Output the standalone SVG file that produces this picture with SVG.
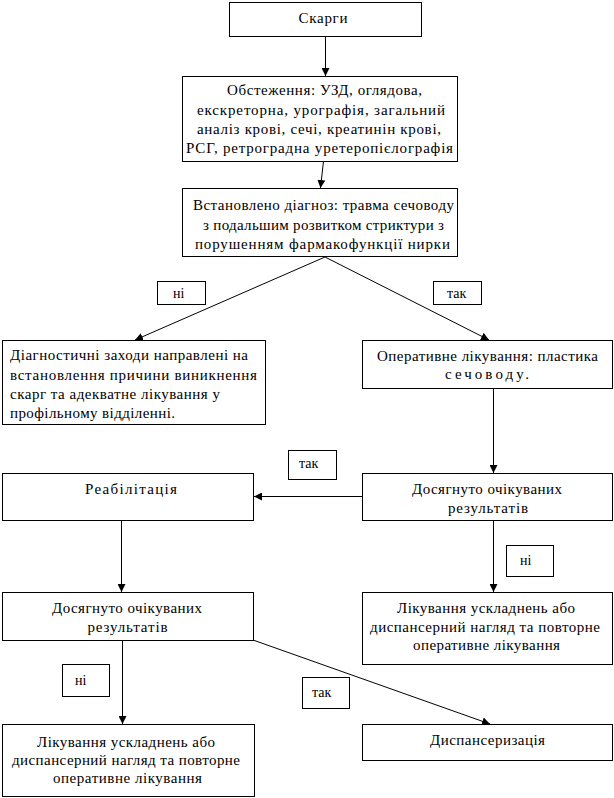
<svg xmlns="http://www.w3.org/2000/svg" width="614" height="798" viewBox="0 0 614 798">
<style>
.box{fill:#fff;stroke:#000;stroke-width:1}
text{font-family:'Liberation Serif','Times New Roman','DejaVu Serif',serif;fill:#000}
.t{font-size:15px}
.c{text-anchor:middle}
.l{font-size:14px}
.conn line{stroke:#000;stroke-width:1;fill:none}
</style>
<defs>
<marker id="ah" viewBox="0 0 10 10" refX="10" refY="5" markerWidth="8" markerHeight="8" markerUnits="userSpaceOnUse" orient="auto">
<path d="M0,0 L10,5 L0,10 z" fill="#000"/>
</marker>
</defs>
<rect width="614" height="798" fill="#fff"/>
<g class="conn">
<line x1="325.5" y1="36" x2="325.5" y2="76" marker-end="url(#ah)"/>
<line x1="323.5" y1="161" x2="320.5" y2="188" marker-end="url(#ah)"/>
<line x1="325" y1="257" x2="135" y2="340" marker-end="url(#ah)"/>
<line x1="325" y1="257" x2="489" y2="340" marker-end="url(#ah)"/>
<line x1="493.5" y1="388" x2="493.5" y2="473" marker-end="url(#ah)"/>
<line x1="362" y1="496.5" x2="254" y2="496.5" marker-end="url(#ah)"/>
<line x1="121.5" y1="520" x2="121.5" y2="592" marker-end="url(#ah)"/>
<line x1="493.5" y1="520" x2="493.5" y2="592" marker-end="url(#ah)"/>
<line x1="122.5" y1="640" x2="122.5" y2="724" marker-end="url(#ah)"/>
<line x1="253" y1="640" x2="490" y2="724" marker-end="url(#ah)"/>
</g>
<g id="n-skarhy">
<rect class="box" x="229.5" y="2.5" width="192" height="34"/>
<text class="t c" x="323" y="23" textLength="49" lengthAdjust="spacing">Скарги</text>
</g>
<g id="n-obstezhennia">
<rect class="box" x="182.5" y="76.5" width="275" height="85"/>
<text class="t c" x="324.5" y="95" textLength="195" lengthAdjust="spacing">Обстеження: УЗД, оглядова,</text>
<text class="t c" x="321" y="115" textLength="248" lengthAdjust="spacing">екскреторна, урографія, загальний</text>
<text class="t c" x="319" y="134" textLength="244" lengthAdjust="spacing">аналіз крові, сечі, креатинін крові,</text>
<text class="t c" x="319.5" y="153" textLength="267" lengthAdjust="spacing">РСГ, ретроградна уретеропієлографія</text>
</g>
<g id="n-diahnoz">
<rect class="box" x="182.5" y="188.5" width="275" height="68"/>
<text class="t c" x="323.5" y="210" textLength="261" lengthAdjust="spacing">Встановлено діагноз: травма сечоводу</text>
<text class="t c" x="323.5" y="230" textLength="241" lengthAdjust="spacing">з подальшим розвитком стриктури з</text>
<text class="t c" x="322.5" y="249" textLength="255" lengthAdjust="spacing">порушенням фармакофункції нирки</text>
</g>
<g id="lbl-ni-1">
<rect class="box" x="157.5" y="281.5" width="48" height="23"/>
<text class="l" x="173" y="298">ні</text>
</g>
<g id="lbl-tak-1">
<rect class="box" x="433.5" y="281.5" width="48" height="23"/>
<text class="l" x="447" y="298">так</text>
</g>
<g id="n-diahnostychni">
<rect class="box" x="2.5" y="340.5" width="263" height="84"/>
<text class="t" x="10" y="360" textLength="238" lengthAdjust="spacing">Діагностичні заходи направлені на</text>
<text class="t" x="10" y="380" textLength="247" lengthAdjust="spacing">встановлення причини виникнення</text>
<text class="t" x="10" y="399" textLength="210" lengthAdjust="spacing">скарг та адекватне лікування у</text>
<text class="t" x="10" y="418" textLength="165" lengthAdjust="spacing">профільному відділенні.</text>
</g>
<g id="n-operatyvne">
<rect class="box" x="362.5" y="340.5" width="250" height="48"/>
<text class="t c" x="487.5" y="361" textLength="221" lengthAdjust="spacing">Оперативне лікування: пластика</text>
<text class="t c" x="487" y="379" textLength="84" lengthAdjust="spacing">сечоводу.</text>
</g>
<g id="lbl-tak-2">
<rect class="box" x="288.5" y="450.5" width="48" height="29"/>
<text class="l" x="299" y="468">так</text>
</g>
<g id="n-reabilitatsiia">
<rect class="box" x="2.5" y="473.5" width="251" height="47"/>
<text class="t c" x="131" y="494" textLength="92" lengthAdjust="spacing">Реабілітація</text>
</g>
<g id="n-dosiahnuto-1">
<rect class="box" x="362.5" y="473.5" width="250" height="47"/>
<text class="t c" x="487" y="494" textLength="150" lengthAdjust="spacing">Досягнуто очікуваних</text>
<text class="t c" x="488" y="513" textLength="80" lengthAdjust="spacing">результатів</text>
</g>
<g id="lbl-ni-2">
<rect class="box" x="506.5" y="545.5" width="47" height="31"/>
<text class="l" x="520" y="565">ні</text>
</g>
<g id="n-dosiahnuto-2">
<rect class="box" x="2.5" y="592.5" width="251" height="48"/>
<text class="t c" x="127" y="613" textLength="150" lengthAdjust="spacing">Досягнуто очікуваних</text>
<text class="t c" x="127.5" y="632" textLength="80" lengthAdjust="spacing">результатів</text>
</g>
<g id="n-likuvannia-1">
<rect class="box" x="362.5" y="592.5" width="250" height="72"/>
<text class="t c" x="486" y="613" textLength="178" lengthAdjust="spacing">Лікування ускладнень або</text>
<text class="t c" x="485" y="632" textLength="230" lengthAdjust="spacing">диспансерний нагляд та повторне</text>
<text class="t c" x="486.5" y="650" textLength="147" lengthAdjust="spacing">оперативне лікування</text>
</g>
<g id="lbl-ni-3">
<rect class="box" x="62.5" y="664.5" width="47" height="32"/>
<text class="l" x="75" y="685">ні</text>
</g>
<g id="lbl-tak-3">
<rect class="box" x="302.5" y="677.5" width="47" height="31"/>
<text class="l" x="312" y="697">так</text>
</g>
<g id="n-likuvannia-2">
<rect class="box" x="2.5" y="724.5" width="252" height="72"/>
<text class="t c" x="126" y="747" textLength="178" lengthAdjust="spacing">Лікування ускладнень або</text>
<text class="t c" x="126" y="765" textLength="228" lengthAdjust="spacing">диспансерний нагляд та повторне</text>
<text class="t c" x="127.5" y="783" textLength="149" lengthAdjust="spacing">оперативне лікування</text>
</g>
<g id="n-dyspanseryzatsiia">
<rect class="box" x="362.5" y="724.5" width="250" height="36"/>
<text class="t c" x="487.5" y="745" textLength="115" lengthAdjust="spacing">Диспансеризація</text>
</g>
</svg>
